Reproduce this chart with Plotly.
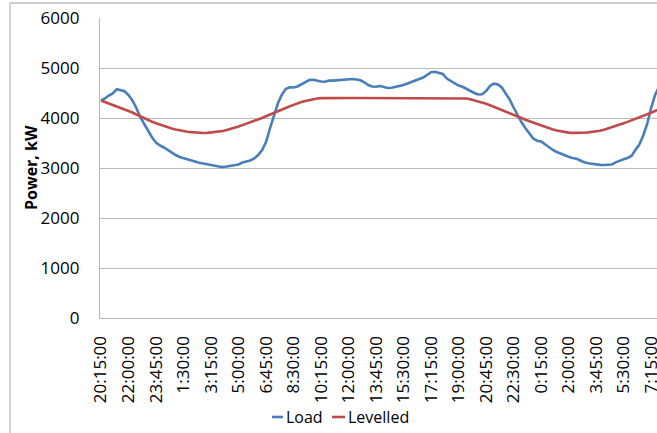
import plotly.graph_objects as go

# 15-minute steps starting at 20:15:00
TICK_LABELS = ["20:15:00", "22:00:00", "23:45:00", "1:30:00", "3:15:00", "5:00:00",
               "6:45:00", "8:30:00", "10:15:00", "12:00:00", "13:45:00", "15:30:00",
               "17:15:00", "19:00:00", "20:45:00", "22:30:00", "0:15:00", "2:00:00",
               "3:45:00", "5:30:00", "7:15:00"]
TICK_STEP = 7

LOAD = [4350, 4390, 4450, 4490, 4575, 4560, 4535, 4460, 4350, 4200,
        4020, 3880, 3740, 3610, 3510, 3450, 3410, 3360, 3300, 3260,
        3220, 3195, 3170, 3145, 3125, 3105, 3090, 3080, 3060, 3046,
        3030, 3020, 3030, 3045, 3055, 3070, 3110, 3130, 3150, 3190,
        3260, 3360, 3520, 3790, 4040, 4290, 4460, 4580, 4613, 4610,
        4630, 4670, 4720, 4760, 4765, 4740, 4730, 4725, 4750, 4748,
        4755, 4765, 4760, 4778, 4780, 4770, 4753, 4715, 4660, 4630,
        4625, 4640, 4620, 4600, 4605, 4620, 4640, 4660, 4690, 4715,
        4745, 4780, 4810, 4860, 4915, 4925, 4905, 4880, 4790, 4745,
        4690, 4650, 4625, 4585, 4530, 4500, 4470, 4475, 4540, 4640,
        4686, 4670, 4610, 4500, 4370, 4210, 4060, 3920, 3800, 3690,
        3590, 3545, 3530, 3475, 3410, 3360, 3320, 3286, 3250, 3225,
        3200, 3185, 3150, 3113, 3095, 3080, 3070, 3062, 3060, 3058,
        3070, 3113, 3150, 3175, 3200, 3240, 3360, 3470, 3650, 3880,
        4200, 4460, 4620]

LEVELLED = [4350, 4320, 4295, 4265, 4240, 4210, 4180, 4145, 4110, 4070,
            4030, 3995, 3960, 3925, 3895, 3865, 3840, 3815, 3790, 3770,
            3752, 3738, 3726, 3718, 3710, 3705, 3700, 3702, 3708, 3715,
            3725, 3740, 3760, 3780, 3805, 3830, 3858, 3885, 3910, 3940,
            3970, 4000, 4035, 4065, 4100, 4135, 4166, 4200, 4232, 4265,
            4292, 4318, 4338, 4358, 4375, 4390, 4398, 4400, 4400, 4400,
            4400, 4400, 4400, 4400, 4400, 4400, 4400, 4400, 4400, 4400,
            4400, 4400, 4400, 4400, 4400, 4400, 4400, 4400, 4400, 4400,
            4400, 4400, 4400, 4400, 4400, 4400, 4400, 4400, 4400, 4400,
            4400, 4400, 4400, 4390, 4375, 4355, 4335, 4313, 4285, 4255,
            4225, 4195, 4165, 4135, 4105, 4070, 4035, 4000, 3965, 3935,
            3910, 3885, 3855, 3825, 3795, 3770, 3748, 3730, 3715, 3708,
            3702, 3700, 3700, 3705, 3712, 3720, 3730, 3745, 3765, 3788,
            3812, 3840, 3868, 3895, 3922, 3950, 3980, 4010, 4042, 4075,
            4105, 4140, 4175]

Y_TICKS = [0, 1000, 2000, 3000, 4000, 5000, 6000]

BLUE = "#4a7ebb"
RED = "#be4b48"
GRID = "#b9b9b9"
FONT = "Open Sans"

x_idx = list(range(len(LOAD)))
tick_vals = [i * TICK_STEP for i in range(len(TICK_LABELS))]

fig = go.Figure()
fig.add_trace(go.Scatter(x=x_idx, y=LOAD, mode="lines", name="Load",
                         line=dict(color=BLUE, width=2.6), showlegend=False))
fig.add_trace(go.Scatter(x=x_idx, y=LEVELLED, mode="lines", name="Levelled",
                         line=dict(color=RED, width=2.6), showlegend=False))

fig.update_layout(
    width=657, height=433,
    margin=dict(l=100, r=0, t=18, b=115, autoexpand=False),
    paper_bgcolor="white", plot_bgcolor="white",
    font=dict(family=FONT, color="black", size=17),
)
fig.update_xaxes(
    range=[-0.25, 141.5], tickmode="array", tickvals=tick_vals, ticktext=TICK_LABELS,
    tickangle=-90, showgrid=False, showline=True, linecolor=GRID, linewidth=1.3,
    ticks="outside", ticklen=10, tickcolor="rgba(0,0,0,0)",
    tickfont=dict(size=17, family=FONT), zeroline=False, automargin=False,
    ticklabeloverflow="allow",
)
fig.update_yaxes(
    range=[0, 6000], tickmode="array", tickvals=Y_TICKS,
    showgrid=True, gridcolor=GRID, gridwidth=1.3,
    showline=True, linecolor=GRID, linewidth=1.3, zeroline=False,
    ticks="outside", ticklen=16, tickcolor="rgba(0,0,0,0)",
    tickfont=dict(size=17, family=FONT), automargin=False,
)

# y-axis title
fig.add_annotation(text="<b>Power, kW</b>", xref="paper", yref="paper",
                   x=(31 - 100) / 557, y=0.5, textangle=-90, showarrow=False,
                   xanchor="center", yanchor="middle",
                   font=dict(size=16, family=FONT, color="black"))

# chart-area border (left and top edges visible)
fig.add_shape(type="line", xref="paper", yref="paper",
              x0=(10 - 100) / 557, x1=(10 - 100) / 557, y0=(318 - 3) / 300, y1=-0.5,
              line=dict(color="#bcbcbc", width=1.3))
fig.add_shape(type="line", xref="paper", yref="paper",
              x0=(10 - 100) / 557, x1=1.2, y0=(318 - 3) / 300, y1=(318 - 3) / 300,
              line=dict(color="#bcbcbc", width=1.3))

# legend (bottom centre)
ly = (318 - 417) / 300
for name, color, x0, x1 in [("Load", BLUE, 272, 283), ("Levelled", RED, 332, 345)]:
    fig.add_shape(type="line", xref="paper", yref="paper",
                  x0=(x0 - 100) / 557, x1=(x1 - 100) / 557, y0=ly, y1=ly,
                  line=dict(color=color, width=2.6))
    fig.add_annotation(text=name, xref="paper", yref="paper",
                       x=(x1 + 1 - 100) / 557, y=ly, xanchor="left", yanchor="middle",
                       showarrow=False, font=dict(size=16, family=FONT, color="black"))

fig.write_html("out.html", config={"displayModeBar": False},
               post_script="document.body.style.margin='0';document.body.style.overflow='hidden';")
